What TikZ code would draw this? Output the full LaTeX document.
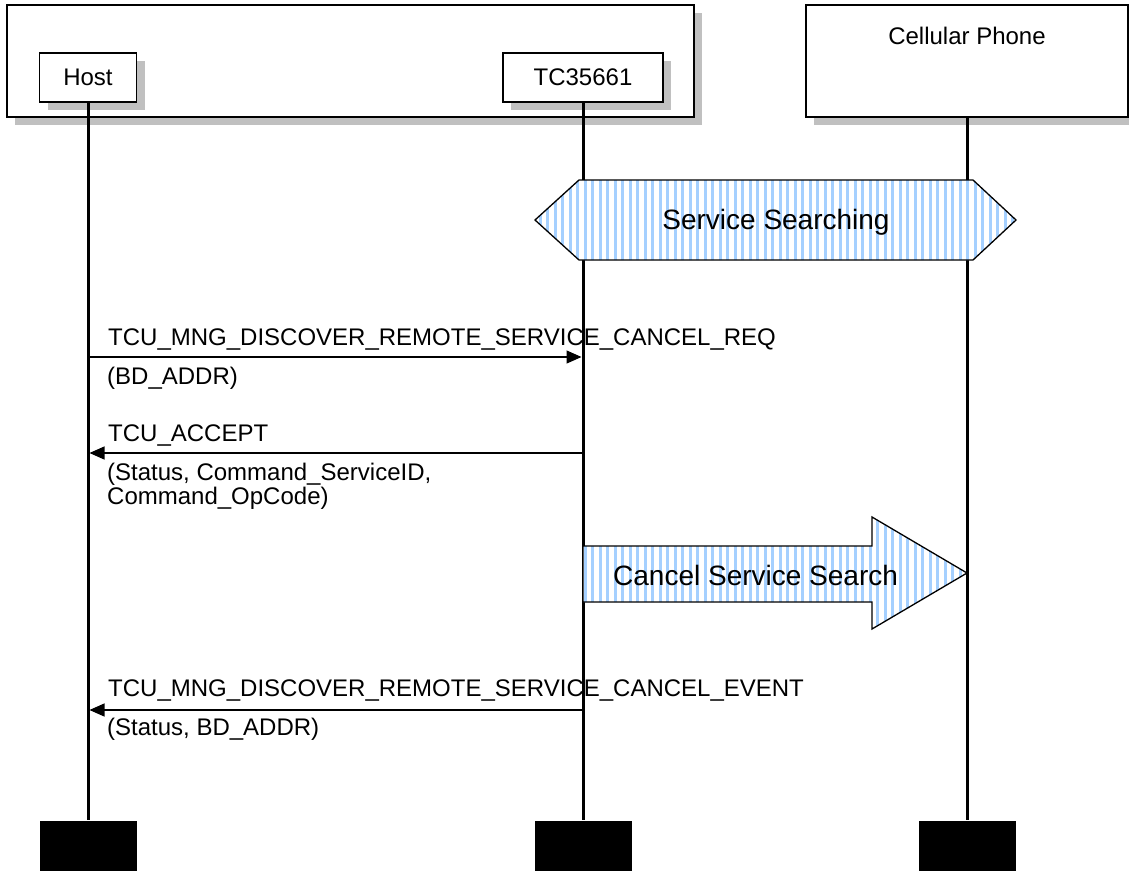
\documentclass[tikz,border=0pt]{standalone}
\usepackage{fontspec}
\setmainfont{Liberation Sans}
\usetikzlibrary{arrows.meta,patterns.meta,shadows}
\definecolor{shadowgray}{RGB}{192,192,192}
\definecolor{stripeblue}{RGB}{165,208,255}
\tikzset{
  box/.style={draw=black, line width=1.5pt, fill=white, inner sep=0pt,
    general shadow={fill=shadowgray, shadow xshift=8pt, shadow yshift=-8pt}},
  lifeline/.style={line width=3pt},
  msg/.style={line width=1.3pt, -{Triangle[length=15pt,width=13pt]}},
  lbl/.style={anchor=base west, inner sep=0pt, font=\fontsize{24}{24}\selectfont},
  big/.style={inner sep=0pt, font=\fontsize{28}{28}\selectfont},
  endbox/.style={fill=black, draw=none, minimum width=97pt, minimum height=50pt, inner sep=0pt},
  striped/.style={draw=black, line width=1.3pt, preaction={fill=white},
    pattern={Lines[angle=90,distance=7.5pt,line width=3pt]}, pattern color=stripeblue},
}
\begin{document}
\begin{tikzpicture}[x=1pt,y=-1pt]
\useasboundingbox (0,0) rectangle (1129,870);
% containers
\node[box, minimum width=687pt, minimum height=112pt] (sys) at (350.5,61) {};
\node[box, minimum width=322pt, minimum height=112pt] (cell) at (967,61) {};
\node[font=\fontsize{24}{24}\selectfont, inner sep=0pt] (celltext) at (967,36) {Cellular Phone};
% instance heads
\node[box, minimum width=97pt, minimum height=49pt, font=\fontsize{24}{24}\selectfont] (host) at (88,77.5) {Host};
\node[box, minimum width=160pt, minimum height=49pt, font=\fontsize{24}{24}\selectfont] (tc) at (583,77.5) {TC35661};
% instance ends
\node[endbox] (hostend) at (88,845.5) {};
\node[endbox] (tcend) at (583,845.5) {};
\node[endbox] (cellend) at (967,845.5) {};
% lifelines
\draw[lifeline] (host.south) -- (hostend.north);
\draw[lifeline] (tc.south) -- (tcend.north);
\draw[lifeline] (cell.south) -- (cellend.north);
% service searching condition
\draw[striped] (535,220) -- (579,180) -- (973,180) -- (1016,220) -- (973,260) -- (579,260) -- cycle;
\node[big] (ss) at (776,222) {Service Searching};
% cancel service search action
\draw[striped] (583,546) -- (872,546) -- (872,517) -- (967,573) -- (872,629) -- (872,602) -- (583,602) -- cycle;
\node[big, anchor=base west] (css) at (613,585) {Cancel Service Search};
% messages
\coordinate (h1) at (88,357);
\coordinate (t1) at (581.5,357);
\draw[msg] (h1) -- (t1);
\node[lbl] (m1) at (108,345) {TCU\_MNG\_DISCOVER\_REMOTE\_SERVICE\_CANCEL\_REQ};
\node[lbl] (m1p) at (107,384) {(BD\_ADDR)};

\coordinate (t2) at (583,453);
\coordinate (h2) at (89.5,453);
\draw[msg] (t2) -- (h2);
\node[lbl] (m2) at (108,441) {TCU\_ACCEPT};
\node[lbl] (m2p) at (107,480) {(Status, Command\_ServiceID,};
\node[lbl] (m2q) at (107,504) {Command\_OpCode)};

\coordinate (t3) at (583,710);
\coordinate (h3) at (89.5,710);
\draw[msg] (t3) -- (h3);
\node[lbl] (m3) at (108,696) {TCU\_MNG\_DISCOVER\_REMOTE\_SERVICE\_CANCEL\_EVENT};
\node[lbl] (m3p) at (107,735) {(Status, BD\_ADDR)};
\end{tikzpicture}
\end{document}
